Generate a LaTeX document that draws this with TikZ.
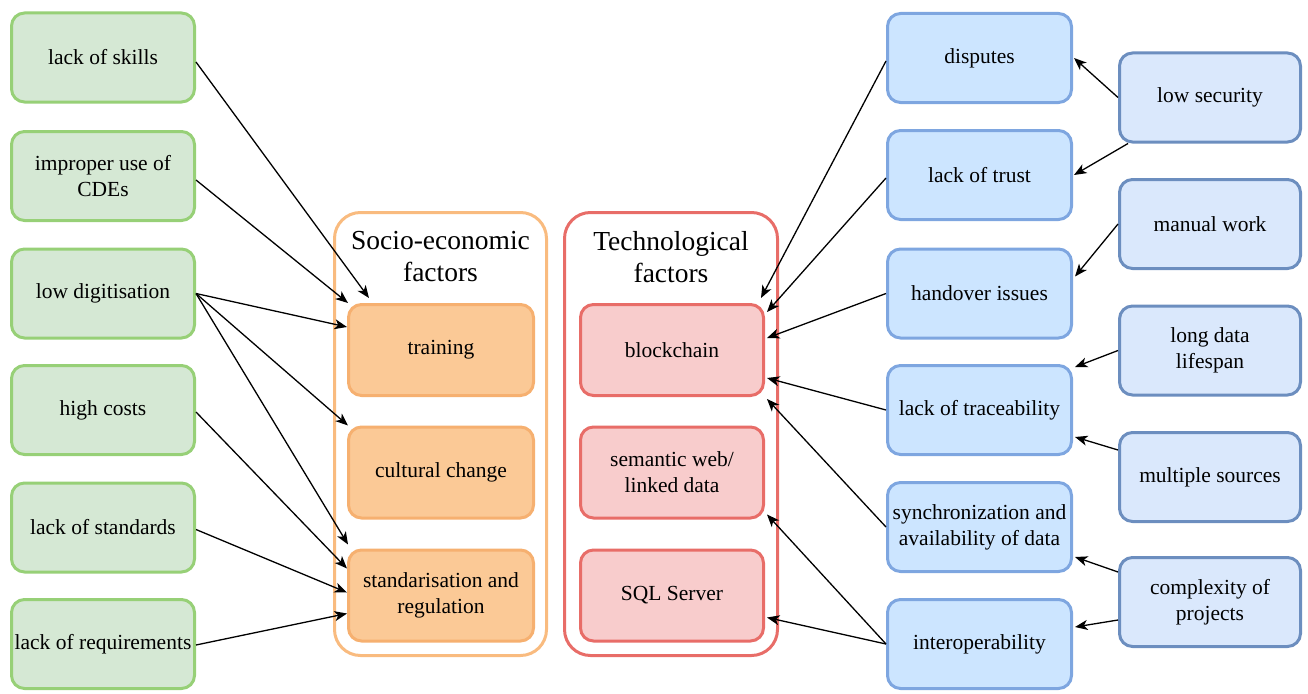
\documentclass[tikz,border=0pt]{standalone}
\usepackage{fontspec}
\setmainfont{Liberation Serif}
\usetikzlibrary{arrows.meta,calc}
\definecolor{gfill}{HTML}{D5E8D4}
\definecolor{gdraw}{HTML}{97D077}
\definecolor{ofill}{HTML}{FBC996}
\definecolor{odraw}{HTML}{F6B070}
\definecolor{ocont}{HTML}{F9BB7F}
\definecolor{rfill}{HTML}{F8CCCC}
\definecolor{rdraw}{HTML}{E86D68}
\definecolor{bfill}{HTML}{CCE5FF}
\definecolor{bdraw}{HTML}{7EA6E0}
\definecolor{dfill}{HTML}{DAE8FC}
\definecolor{ddraw}{HTML}{6C8EBF}
\tikzset{
  box/.style={rounded corners=13pt, line width=3pt, align=center, inner sep=2pt,
    minimum height=89pt, font=\fontsize{21.5}{26}\selectfont},
  gbox/.style={box, fill=gfill, draw=gdraw, minimum width=183pt},
  obox/.style={box, fill=ofill, draw=odraw, minimum width=185pt, minimum height=91pt},
  rbox/.style={box, fill=rfill, draw=rdraw, minimum width=183pt, minimum height=91pt},
  bbox/.style={box, fill=bfill, draw=bdraw, minimum width=184pt},
  dbox/.style={box, fill=dfill, draw=ddraw, minimum width=181pt},
  cont/.style={rounded corners=26pt, line width=3pt, fill=white, minimum height=443pt},
  ttl/.style={align=center, font=\fontsize{27.5}{32}\selectfont},
  arr/.style={line width=1.3pt, -{Stealth[length=12.5pt,width=10pt,inset=3.5pt]}}
}
\begin{document}
\begin{tikzpicture}[x=1pt,y=-1pt]
\useasboundingbox (0,0) rectangle (1308,693);
% containers
\node[cont, draw=ocont, minimum width=212pt] (socio) at (440.5,434) {};
\node[cont, draw=rdraw, minimum width=213pt] (tech) at (671,434) {};
\node[ttl] (sociot) at (440.5,257) {Socio-economic\\factors};
\node[ttl] (techt) at (671,257) {Technological\\factors};
% left column
\node[gbox] (skills) at (103,57.5) {lack of skills};
\node[gbox] (cde) at (103,176) {improper use of\\CDEs};
\node[gbox] (lowdig) at (103,293.5) {low digitisation};
\node[gbox] (costs) at (103,410) {high costs};
\node[gbox] (lstd) at (103,527.5) {lack of standards};
\node[gbox] (req) at (103,644) {lack of requirements};
% orange
\node[obox] (training) at (441,350) {training};
\node[obox] (culture) at (441,472.5) {cultural change};
\node[obox] (stand) at (441,595.5) {standarisation and\\regulation};
% red
\node[rbox] (block) at (672,350) {blockchain};
\node[rbox] (sem) at (672,472.5) {semantic web/\\linked data};
\node[rbox] (sql) at (672,595.5) {SQL Server};
% blue middle
\node[bbox] (disp) at (979.5,58) {disputes};
\node[bbox] (trust) at (979.5,175) {lack of trust};
\node[bbox] (hand) at (979.5,293.5) {handover issues};
\node[bbox] (trace) at (979.5,410) {lack of traceability};
\node[bbox] (sync) at (979.5,527) {synchronization and\\availability of data};
\node[bbox] (inter) at (979.5,644) {interoperability};
% right column
\node[dbox] (lowsec) at (1210,97.5) {low security};
\node[dbox] (manual) at (1210,224) {manual work};
\node[dbox] (life) at (1210,350.5) {long data\\lifespan};
\node[dbox] (multi) at (1210,477) {multiple sources};
\node[dbox] (complex) at (1210,602) {complexity of\\projects};
% left arrows
\draw[arr] ($(skills.east)+(0,4.5)$) -- ($(training.north west)+(22,-5)$);
\draw[arr] ($(cde.east)+(0,4)$) -- ($(training.north west)+(1,0)$);
\draw[arr] (lowdig.east) -- ($(training.west)+(0,-23)$);
\draw[arr] (lowdig.east) -- ($(culture.north west)+(1,0)$);
\draw[arr] (lowdig.east) -- ($(stand.north west)+(1,-4)$);
\draw[arr] ($(costs.east)+(0,2)$) -- ($(stand.west)+(0,-27)$);
\draw[arr] ($(lstd.east)+(0,2)$) -- ($(stand.west)+(0,-3)$);
\draw[arr] ($(req.east)+(0,1)$) -- ($(stand.west)+(0,18)$);
% middle to tech
\draw[arr] ($(disp.west)+(0,3)$) -- ($(block.north east)+(-4,-5)$);
\draw[arr] ($(trust.west)+(0,3)$) -- ($(block.east)+(2,-38)$);
\draw[arr] (hand.west) -- ($(block.east)+(2,-12)$);
\draw[arr] (trace.west) -- ($(block.east)+(2,28)$);
\draw[arr] (sync.west) -- ($(block.south east)+(2,2)$);
\draw[arr] (inter.west) -- ($(sem.south east)+(2,-5)$);
\draw[arr] (inter.west) -- ($(sql.east)+(2,22)$);
% right to middle
\draw[arr] (lowsec.west) -- ($(disp.east)+(1,0)$);
\draw[arr] ($(lowsec.south west)+(10,0)$) -- ($(trust.east)+(1,0)$);
\draw[arr] (manual.west) -- ($(hand.east)+(2,-17)$);
\draw[arr] (life.west) -- ($(trace.north east)+(2,3)$);
\draw[arr] ($(multi.west)+(0,-27)$) -- ($(trace.east)+(2,27)$);
\draw[arr] ($(complex.west)+(0,-30)$) -- ($(sync.east)+(2,30)$);
\draw[arr] ($(complex.west)+(0,18)$) -- ($(inter.east)+(2,-17)$);
\end{tikzpicture}
\end{document}
